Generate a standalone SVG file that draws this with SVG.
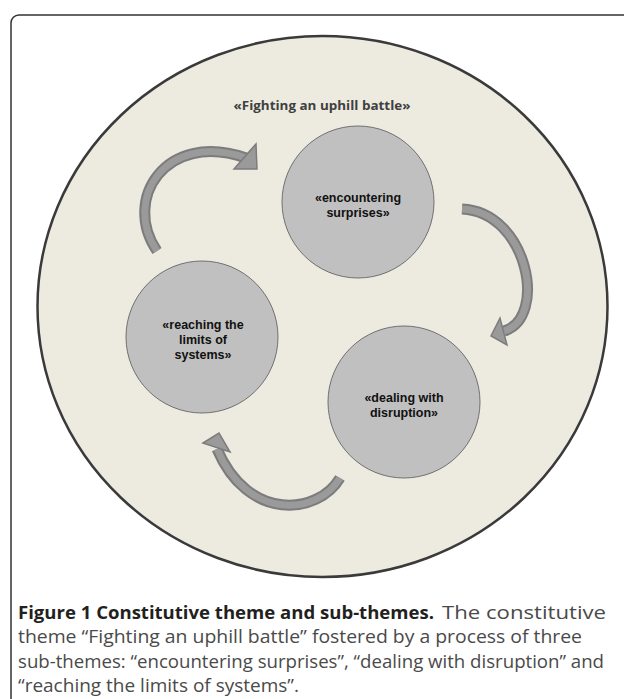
<svg xmlns="http://www.w3.org/2000/svg" width="624" height="699" viewBox="0 0 624 699">
<style>
.node circle{fill:#c0c0c0;stroke:#707070;stroke-width:1}
.node text{font-family:"Liberation Sans",Arial,sans-serif;font-weight:bold;font-size:12.5px;fill:#111;text-anchor:middle}
.shaft{fill:none;stroke:#7c7c7c;stroke-width:11;stroke-linecap:butt}
.shaftin{fill:none;stroke:#9a9a9a;stroke-width:7;stroke-linecap:butt}
.head{fill:#9a9a9a;stroke:#7c7c7c;stroke-width:1.5;stroke-linejoin:miter}
.cap{font-family:"Open Sans","Liberation Sans",sans-serif;font-size:18px}
.capb{font-weight:bold;fill:#231f20}
.capr{fill:#4a4a4a}
</style>
<rect width="624" height="699" fill="#ffffff"/>
<rect x="11" y="15" width="700" height="800" rx="8" ry="8" fill="none" stroke="#333" stroke-width="1.5"/>
<g id="theme">
<ellipse cx="322.5" cy="306.5" rx="285" ry="270.5" fill="#edebe0" stroke="#3a3a3a" stroke-width="2.5"/>
<text x="322" y="110" font-family="'Open Sans','Liberation Sans',sans-serif" font-weight="bold" font-size="13px" fill="#404040" text-anchor="middle" textLength="177" lengthAdjust="spacingAndGlyphs">«Fighting an uphill battle»</text>
</g>
<g id="connectors">
<g id="arrow1">
<path class="shaft" d="M157,251 C122,200 165,130 246,158"/>
<path class="shaftin" d="M157,251 C122,200 165,130 246,158"/>
<polygon class="head" points="234,169 257,169 256,144"/>
</g>
<g id="arrow2">
<path class="shaft" d="M462,209 C528,212 548,318 504,331"/>
<path class="shaftin" d="M462,209 C528,212 548,318 504,331"/>
<polygon class="head" points="500,318 491,336 507,345"/>
</g>
<g id="arrow3">
<path class="shaft" d="M340,478 C318,515 248,522 217,449"/>
<path class="shaftin" d="M340,478 C318,515 248,522 217,449"/>
<polygon class="head" points="203,443 219,433 230,452"/>
</g>
</g>
<g id="node-encountering" class="node">
<circle cx="358" cy="202" r="76"/>
<text x="358" y="201.5">«encountering</text>
<text x="358" y="216.5">surprises»</text>
</g>
<g id="node-reaching" class="node">
<circle cx="202" cy="337" r="76"/>
<text x="203" y="328.5">«reaching the</text>
<text x="203" y="343.5">limits of</text>
<text x="203" y="358.5">systems»</text>
</g>
<g id="node-dealing" class="node">
<circle cx="404" cy="402" r="76"/>
<text x="404" y="401.5">«dealing with</text>
<text x="404" y="416.5">disruption»</text>
</g>
<g id="caption" class="cap">
<text class="capb" x="18" y="619" textLength="416" lengthAdjust="spacingAndGlyphs">Figure 1 Constitutive theme and sub-themes.</text>
<text class="capr" x="442" y="619" textLength="164" lengthAdjust="spacingAndGlyphs">The constitutive</text>
<text class="capr" x="18" y="643" textLength="564" lengthAdjust="spacingAndGlyphs">theme “Fighting an uphill battle” fostered by a process of three</text>
<text class="capr" x="18" y="667.5" textLength="586" lengthAdjust="spacingAndGlyphs">sub-themes: “encountering surprises”, “dealing with disruption” and</text>
<text class="capr" x="18" y="691.5" textLength="281" lengthAdjust="spacingAndGlyphs">“reaching the limits of systems”.</text>
</g>
</svg>
